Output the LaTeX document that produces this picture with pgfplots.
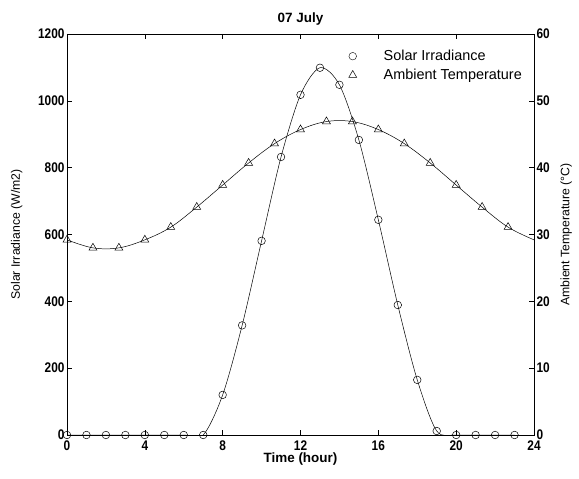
\documentclass[border=0pt]{standalone}
\usepackage{pgfplots}
\pgfplotsset{compat=1.18}
\usepackage{fontspec}
\setmainfont{Liberation Sans}
\newfontfamily\tickfont[FakeStretch=0.85]{Liberation Sans}
\begin{document}
\begin{tikzpicture}
\path[use as bounding box] (-67bp,-44bp) rectangle (512bp,435bp);
\pgfplotsset{
  every axis/.append style={
    scale only axis, width=467bp, height=401bp,
    at={(0,0)}, anchor=south west,
    xmin=0, xmax=24, xtick={0,4,...,24},
    tick align=inside,
    tick style={black, line width=0.5pt},
    major tick length=5bp,
    /pgf/number format/assume math mode=true,
    /pgf/number format/1000 sep={},
    tick label style={font=\fontsize{14}{15}\tickfont\bfseries},
    label style={font=\fontsize{12.3}{14}\selectfont},
    axis line style={line width=0.6pt},
  }
}
\begin{axis}[
  ymin=0, ymax=1200, ytick={0,200,...,1200},
  xtick pos=both, ytick pos=left,
  scaled y ticks=false,
  yticklabel style={xshift=1bp},
  xticklabel style={yshift=-2bp},
  ylabel={Solar Irradiance (W/m2)},
  xlabel={\fontsize{13.5}{15}\selectfont\bfseries Time (hour)},
  ylabel style={at={(axis description cs:0,0.5)}, yshift=41bp},
  xlabel style={yshift=4bp},
  title={\bfseries 07 July},
  title style={font=\fontsize{13.5}{15}\selectfont, yshift=-1bp},
]
\addplot[black, line width=0.5pt, smooth, tension=0.5, mark=o, mark size=3.8bp, mark options={line width=0.5pt}] coordinates {
(0,0) (1,0) (2,0) (3,0) (4,0) (5,0) (6,0) (7,0) (8,120) (9,328) (10,581) (11,832) (12,1018) (13,1099) (14,1048) (15,883) (16,644) (17,389) (18,165) (19,12) (20,0) (21,0) (22,0) (23,0)
};
\end{axis}
\begin{axis}[
  ymin=0, ymax=60, ytick={0,10,...,60},
  axis y line*=right, axis x line=none,
  yticklabel style={xshift=-1bp},
  ylabel={Ambient Temperature (\textdegree C)},
  ylabel style={at={(axis description cs:1,0.5)}, yshift=-23bp},
  legend style={at={(0.985,0.97)}, anchor=north east, draw=none, fill=none,
    font=\fontsize{14.5}{16}\selectfont, row sep=3bp,
    legend cell align=left},
  legend image code/.code={\draw[#1] plot coordinates {(0.3cm,0cm)};},
]
\addlegendimage{black, only marks, mark=o, mark size=3.8bp}
\addlegendentry{\hspace{25bp}Solar Irradiance}
\addplot[black, line width=0.5pt, smooth, tension=0.6, forget plot] coordinates {
(0,29.2) (1.333,28.0) (2.667,28.0) (4,29.2) (5.333,31.1) (6.667,34.1) (8,37.4) (9.333,40.7) (10.667,43.6) (12,45.7) (13.333,46.9) (14.667,46.9) (16,45.7) (17.333,43.6) (18.667,40.7) (20,37.4) (21.333,34.1) (22.667,31.1) (24,29.2)
};
\addplot[black, only marks, mark=triangle, mark size=4.6bp, mark options={line width=0.5pt}] coordinates {
(0,29.2) (1.333,28.0) (2.667,28.0) (4,29.2) (5.333,31.1) (6.667,34.1) (8,37.4) (9.333,40.7) (10.667,43.6) (12,45.7) (13.333,46.9) (14.667,46.9) (16,45.7) (17.333,43.6) (18.667,40.7) (20,37.4) (21.333,34.1) (22.667,31.1)
};
\addlegendentry{\hspace{25bp}Ambient Temperature}
\end{axis}
\end{tikzpicture}
\end{document}
